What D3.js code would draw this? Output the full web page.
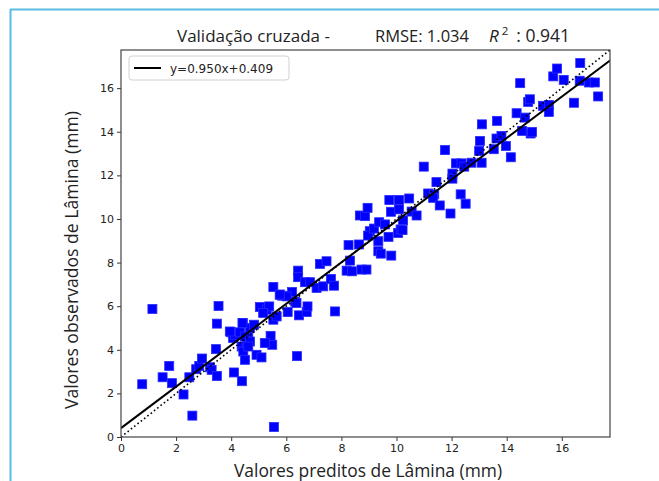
<!DOCTYPE html>
<html><head><meta charset="utf-8">
<script src="https://cdn.jsdelivr.net/npm/d3@7"></script>
<style>html,body{margin:0;padding:0;background:#fff;}svg{display:block;}</style>
</head><body>
<script>
// predicted (x) and observed (y) values
const predicted = [0.77,1.14,1.51,1.75,1.85,2.27,2.48,2.59,2.73,2.84,2.94,3.23,3.29,3.48,3.45,3.48,3.54,4.10,4.39,4.00,
4.07,4.20,4.42,4.38,4.44,4.50,4.56,4.62,4.68,4.83,4.92,5.10,5.04,5.29,5.38,5.43,5.49,5.55,5.53,5.76,
5.85,6.21,6.05,6.32,6.39,6.46,6.74,5.53,5.65,5.16,4.14,4.32,4.50,4.68,4.62,5.22,6.37,6.77,6.43,6.43,
6.68,6.86,7.10,7.34,7.62,7.73,7.77,7.22,7.46,8.19,8.38,8.73,8.91,8.31,8.26,8.64,8.67,8.86,8.95,9.03,
8.97,9.18,9.37,9.58,9.34,9.71,9.34,9.43,9.81,9.74,9.80,10.09,10.09,10.46,10.55,10.73,10.24,10.06,10.15,10.22,
10.99,11.15,11.37,11.33,11.45,11.57,11.76,11.96,12.03,12.03,12.16,12.33,12.36,12.46,12.51,12.72,13.00,13.03,13.09,13.10,
13.53,13.63,13.65,13.81,13.97,14.15,14.36,14.49,14.56,14.66,14.78,14.84,14.87,14.92,15.32,15.53,15.53,15.69,15.83,16.07,
16.44,16.65,16.67,16.99,17.20,17.32,6.01,3.95,4.41,5.77];
const observed = [2.42,5.87,2.74,3.26,2.47,1.95,2.74,0.98,3.11,3.26,3.60,3.20,3.08,2.80,4.03,5.20,6.01,2.96,2.56,4.80,
4.54,4.77,5.23,4.15,3.92,3.54,4.31,4.61,5.00,5.15,3.77,3.65,5.96,5.84,5.99,4.64,4.23,0.46,6.88,6.53,
6.48,6.65,5.73,6.21,3.71,5.58,5.73,5.38,5.53,5.69,4.69,4.80,4.61,4.38,4.15,4.31,6.15,5.99,7.63,7.33,
7.10,7.10,6.84,6.91,7.25,6.94,5.76,7.94,8.06,7.63,7.60,7.68,7.68,8.09,8.80,8.83,10.16,10.13,10.51,9.44,
9.24,9.56,9.85,9.75,8.98,9.18,8.52,8.41,8.32,10.87,10.33,10.87,10.44,10.94,10.34,10.16,9.94,9.36,9.52,9.49,
12.40,11.17,11.13,10.97,11.69,10.62,13.16,10.25,12.08,11.85,12.55,11.13,12.55,12.40,10.70,12.58,13.12,13.58,12.58,14.34,
13.20,13.69,14.50,13.81,13.35,12.83,14.85,16.23,14.04,14.65,15.37,15.49,13.92,13.99,15.19,15.23,14.91,16.54,16.90,16.38,
15.33,16.34,17.15,16.26,16.26,15.62,6.45,4.84,5.23,6.53];
const xTicks = [0,2,4,6,8,10,12,14,16];
const yTicks = [0,2,4,6,8,10,12,14,16];
const slope = 0.950, intercept = 0.409;
const axisMax = 17.75;
const titleLeft = "Validação cruzada -";
const titleRmse = "RMSE: 1.034";
const titleR2 = "0.941";
const legendLabel = "y=0.950x+0.409";
const xLabel = "Valores preditos de Lâmina (mm)";
const yLabel = "Valores observados de Lâmina (mm)";

const W = 659, H = 481;
const m = {left:121, right:610, top:50, bottom:437};
const svg = d3.select("body").append("svg").attr("width", W).attr("height", H);

// outer light-blue frame
svg.append("line").attr("x1",10).attr("x2",W).attr("y1",9.5).attr("y2",9.5).attr("stroke","#5bbde4").attr("stroke-width",2);
svg.append("line").attr("x1",10.5).attr("x2",10.5).attr("y1",9).attr("y2",H).attr("stroke","#5bbde4").attr("stroke-width",2);

const x = d3.scaleLinear().domain([0, axisMax]).range([m.left, m.right]);
const y = d3.scaleLinear().domain([0, axisMax]).range([m.bottom, m.top]);

const pts = predicted.map((p,i)=>({p, o: observed[i]}));
const g = svg.append("g");
const s = 9;
g.selectAll("rect.pt").data(pts).enter().append("rect").attr("class","pt")
  .attr("x", d=>x(d.p)-s/2).attr("y", d=>y(d.o)-s/2).attr("width", s).attr("height", s)
  .attr("fill","#0000ff").attr("stroke","#2a2aff").attr("stroke-width",0.8);

// clip for lines
svg.append("clipPath").attr("id","clip").append("rect").attr("x",m.left).attr("y",m.top).attr("width",m.right-m.left).attr("height",m.bottom-m.top);

// 1:1 dotted line
svg.append("line").attr("clip-path","url(#clip)")
  .attr("x1",x(0)).attr("y1",y(0)).attr("x2",x(axisMax)).attr("y2",y(axisMax))
  .attr("stroke","#000").attr("stroke-width",1.6).attr("stroke-dasharray","1.6,2.6");
// regression line
svg.append("line").attr("clip-path","url(#clip)")
  .attr("x1",x(0)).attr("y1",y(intercept)).attr("x2",x(axisMax)).attr("y2",y(slope*axisMax+intercept))
  .attr("stroke","#000").attr("stroke-width",2);

// axes
const xa = svg.append("g").attr("transform",`translate(0,${m.bottom})`)
  .call(d3.axisBottom(x).tickValues(xTicks).tickSize(4).tickPadding(3).tickFormat(d3.format("d")));
const ya = svg.append("g").attr("transform",`translate(${m.left},0)`)
  .call(d3.axisLeft(y).tickValues(yTicks).tickSize(4).tickPadding(3).tickFormat(d3.format("d")));
[xa,ya].forEach(a=>{
  a.select(".domain").remove();
  a.selectAll("line").attr("stroke","#333").attr("stroke-width",1);
  a.selectAll("text").attr("font-family","DejaVu Sans").attr("font-size",11).attr("fill","#222");
});
// spines
svg.append("rect").attr("x",m.left).attr("y",m.top).attr("width",m.right-m.left).attr("height",m.bottom-m.top)
  .attr("fill","none").attr("stroke","#444").attr("stroke-width",1.2);

// legend
const lg = svg.append("g");
lg.append("rect").attr("x",129).attr("y",56).attr("width",160).attr("height",24).attr("rx",3)
  .attr("fill","#fff").attr("fill-opacity",0.85).attr("stroke","#d0d0d0");
lg.append("line").attr("x1",134).attr("x2",161).attr("y1",68).attr("y2",68).attr("stroke","#000").attr("stroke-width",2);
lg.append("text").attr("x",170).attr("y",72.5).attr("font-family","DejaVu Sans").attr("font-size",12).attr("fill","#222").text(legendLabel);

// title
const tf = "Open Sans";
const title = svg.append("g").attr("font-family",tf).attr("font-size",17).attr("fill","#222");
title.append("text").attr("x",177).attr("y",42).text(titleLeft);
title.append("text").attr("x",375).attr("y",42).attr("font-size",16.5).text(titleRmse);
const r2 = title.append("text").attr("x",489).attr("y",42);
r2.append("tspan").attr("font-style","italic").text("R");
r2.append("tspan").attr("font-size",11.5).attr("dy",-7).attr("dx",3).text("2");
r2.append("tspan").attr("dy",7).attr("dx",8).attr("font-size",17.5).text(": " + titleR2);

// axis labels
svg.append("text").attr("x",368).attr("y",477).attr("text-anchor","middle")
  .attr("font-family",tf).attr("font-size",17.4).attr("fill","#222").text(xLabel);
svg.append("text").attr("transform",`translate(78,260) rotate(-90)`).attr("text-anchor","middle")
  .attr("font-family",tf).attr("font-size",17.6).attr("fill","#222").text(yLabel);
</script>
</body></html>
